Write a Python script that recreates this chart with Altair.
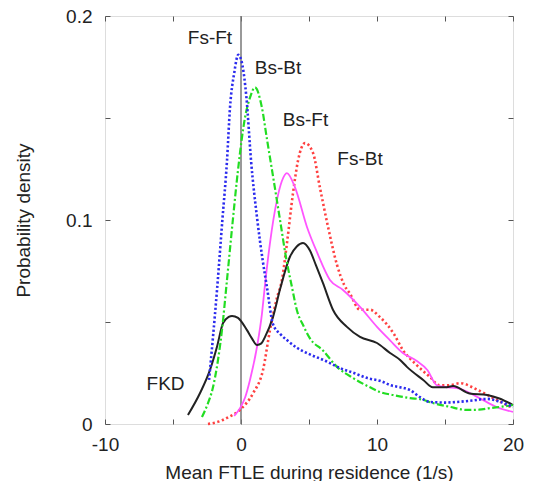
import altair as alt
import pandas as pd

# ---- data ----
fsft_x = [-2.35, -1.76, -1.37, -1.03, -0.81, -0.5, -0.2, 0.1, 0.4, 0.74, 1.2, 1.6, 1.91, 2.35, 2.9, 3.4, 4.2,
          5.1, 6.2, 7.3, 8.3, 9.3, 10.3, 11.0, 11.7, 12.4, 13.2, 13.9, 15.0, 15.9, 17.0, 18.1, 19.0, 20]
fsft_y = [0.0216, 0.066, 0.1, 0.129, 0.155, 0.172, 0.181, 0.176, 0.16, 0.129, 0.1, 0.08, 0.067, 0.049, 0.044,
          0.041, 0.037, 0.034, 0.031, 0.0274, 0.025, 0.0225, 0.021, 0.019, 0.018, 0.0167, 0.013, 0.0108, 0.0105,
          0.0108, 0.0115, 0.0123, 0.011, 0.0083]

bsbt_x = [-2.87, -2.5, -2.06, -1.7, -1.4, -1.03, -0.6, -0.22, 0.29, 0.66, 1.03, 1.54, 1.9, 2.28, 2.87, 3.3, 3.75,
          4.1, 4.6, 5.07, 6.03, 7.06, 8.24, 9.49, 10.3, 11.18, 12.43, 13.3, 14.1, 15.3, 16.6, 17.5, 18.3, 19.2, 20]
bsbt_y = [0.0034, 0.009, 0.018, 0.031, 0.046, 0.0706, 0.1, 0.1245, 0.15, 0.16, 0.165, 0.155, 0.14, 0.1245, 0.1,
          0.082, 0.067, 0.056, 0.048, 0.042, 0.036, 0.028, 0.0225, 0.018, 0.0155, 0.0142, 0.0127, 0.012, 0.0103,
          0.0085, 0.0069, 0.007, 0.0078, 0.0085, 0.0093]

fkd_x = [-3.9, -3.01, -2.28, -1.76, -1.32, -0.9, -0.66, -0.22, 0.44, 0.8, 1.18, 1.5, 1.76, 2.35, 2.87, 3.6, 4.1,
         4.56, 5.07, 5.5, 6.03, 6.76, 7.79, 8.75, 10, 10.96, 11.7, 12.2, 13.4, 14.1, 15.0, 15.6, 16.8, 18.1, 19.0, 20]
fkd_y = [0.0044, 0.0152, 0.0265, 0.038, 0.0495, 0.0525, 0.053, 0.052, 0.046, 0.042, 0.0387, 0.0395, 0.0426,
         0.0524, 0.066, 0.082, 0.087, 0.0887, 0.085, 0.078, 0.069, 0.056, 0.0476, 0.0427, 0.0397, 0.0348, 0.0314,
         0.028, 0.0216, 0.018, 0.018, 0.0186, 0.015, 0.0142, 0.0125, 0.0093]

bsft_x = [-0.5, -0.07, 0.3, 0.66, 1.18, 1.54, 1.76, 2.13, 2.65, 3.0, 3.38, 3.97, 4.85, 5.6, 6.54, 7.5, 8.75, 10,
          10.96, 11.9, 12.9, 13.7, 14.4, 15.2, 15.9, 17.4, 18.8, 20]
bsft_y = [0.004, 0.0078, 0.013, 0.0216, 0.038, 0.054, 0.068, 0.0887, 0.11, 0.119, 0.123, 0.116, 0.0966, 0.084,
          0.0706, 0.0657, 0.0574, 0.0476, 0.041, 0.0348, 0.031, 0.0265, 0.019, 0.018, 0.0176, 0.0132, 0.0083,
          0.0059]

fsbt_x = [-2.43, -1.5, -1.03, -0.07, 0.88, 1.62, 2.13, 2.65, 3.01, 3.38, 3.82, 4.19, 4.7, 5.29, 5.8, 6.4, 7.06,
          7.6, 8.0, 8.75, 9.49, 10.2, 11.2, 11.9, 12.9, 13.9, 14.6, 15.3, 16.1, 17.4, 18.8, 20]
fsbt_y = [0.0, 0.0015, 0.003, 0.007, 0.015, 0.0265, 0.046, 0.062, 0.0706, 0.0887, 0.113, 0.129, 0.1377, 0.133,
          0.116, 0.0966, 0.078, 0.068, 0.064, 0.056, 0.056, 0.0525, 0.0446, 0.0363, 0.029, 0.023, 0.019, 0.019,
          0.02, 0.0167, 0.0118, 0.0078]

label_text = ["Fs-Ft", "Bs-Bt", "Bs-Ft", "Fs-Bt", "FKD"]
label_x = [-2.28, 2.72, 4.74, 8.75, -5.55]
label_y = [0.189, 0.1745, 0.149, 0.1297, 0.0196]

x_ticks = [-10, -5, 0, 5, 10, 15, 20]
y_ticks = [0, 0.05, 0.1, 0.15, 0.2]

FONT = "Liberation Sans"
FS = 19

xs = alt.Scale(domain=[-10, 20], nice=False, zero=False)
ys = alt.Scale(domain=[0, 0.2], nice=False, zero=False)

x_bottom = alt.Axis(values=x_ticks, labelExpr="datum.value % 10 === 0 ? '' + datum.value : ''",
                    tickSize=5, offset=-5, domain=False, grid=False, tickColor="#555", tickWidth=1,
                    labelFont=FONT, labelFontSize=FS, labelColor="#222", labelPadding=11,
                    title="Mean FTLE during residence (1/s)", titleFont=FONT, titleFontSize=FS,
                    titleFontWeight="normal", titleColor="#222", titlePadding=9, orient="bottom",
                    labelFlush=False, labelOverlap=False)
y_left = alt.Axis(values=y_ticks, labelExpr="round(datum.value * 100) % 10 === 0 ? '' + datum.value : ''",
                  tickSize=5, offset=-5, domain=False, grid=False, tickColor="#555", tickWidth=1,
                  labelFont=FONT, labelFontSize=FS, labelColor="#222", labelPadding=13,
                  title="Probability density", titleFont=FONT, titleFontSize=FS,
                  titleFontWeight="normal", titleColor="#222", titlePadding=32, orient="left",
                  labelFlush=False, labelOverlap=False)
x_top = alt.Axis(values=x_ticks, labels=False, tickSize=5, offset=-5, domain=False, grid=False,
                 tickColor="#555", tickWidth=1, title=None, orient="top")
y_right = alt.Axis(values=y_ticks, labels=False, tickSize=5, offset=-5, domain=False, grid=False,
                   tickColor="#555", tickWidth=1, title=None, orient="right")


def line(xv, yv, color, dash, width):
    df = pd.DataFrame({"x": xv, "y": yv})
    kw = dict(color=color, strokeWidth=width, interpolate="monotone")
    if dash:
        kw["strokeDash"] = dash
    return alt.Chart(df).mark_line(**kw).encode(
        x=alt.X("x:Q", scale=xs, axis=None),
        y=alt.Y("y:Q", scale=ys, axis=None),
    )


zero_df = pd.DataFrame({"x": [0]})
axes_bl = alt.Chart(zero_df).mark_rule(color="#777", strokeWidth=1.5).encode(
    x=alt.X("x:Q", scale=xs, axis=x_bottom),
)
axes_tr = alt.Chart(pd.DataFrame({"x": [-10, 20], "y": [0, 0.2]})).mark_point(opacity=0).encode(
    x=alt.X("x:Q", scale=xs, axis=x_top),
    y=alt.Y("y:Q", scale=ys, axis=y_right),
)
axes_l = alt.Chart(pd.DataFrame({"x": [-10, 20], "y": [0, 0.2]})).mark_point(opacity=0).encode(
    x=alt.X("x:Q", scale=xs, axis=None),
    y=alt.Y("y:Q", scale=ys, axis=y_left),
)

labels = alt.Chart(pd.DataFrame({"t": label_text, "x": label_x, "y": label_y})).mark_text(
    font=FONT, fontSize=FS, color="#222", align="center", baseline="middle"
).encode(
    x=alt.X("x:Q", scale=xs, axis=None),
    y=alt.Y("y:Q", scale=ys, axis=None),
    text="t:N",
)

chart = alt.layer(
    axes_bl,
    axes_l,
    axes_tr,
    line(fsbt_x, fsbt_y, "#ff4040", [2.2, 2.6], 2.6),
    line(bsft_x, bsft_y, "#ff55ff", None, 1.8),
    line(fkd_x, fkd_y, "#222222", None, 2.0),
    line(bsbt_x, bsbt_y, "#22dd22", [7, 2.5, 2, 2.5], 2.2),
    line(fsft_x, fsft_y, "#2b2bee", [2.2, 2.2], 2.6),
    labels,
).resolve_axis(x="independent", y="independent").properties(
    width=408, height=408,
    autosize=alt.AutoSizeParams(type="none"),
    padding={"left": 97, "top": 8, "right": 13, "bottom": 57},
).configure_view(stroke="#555", strokeWidth=1.5).configure(background="white")

chart.save("out.html", embed_options={"renderer": "svg", "actions": False})
